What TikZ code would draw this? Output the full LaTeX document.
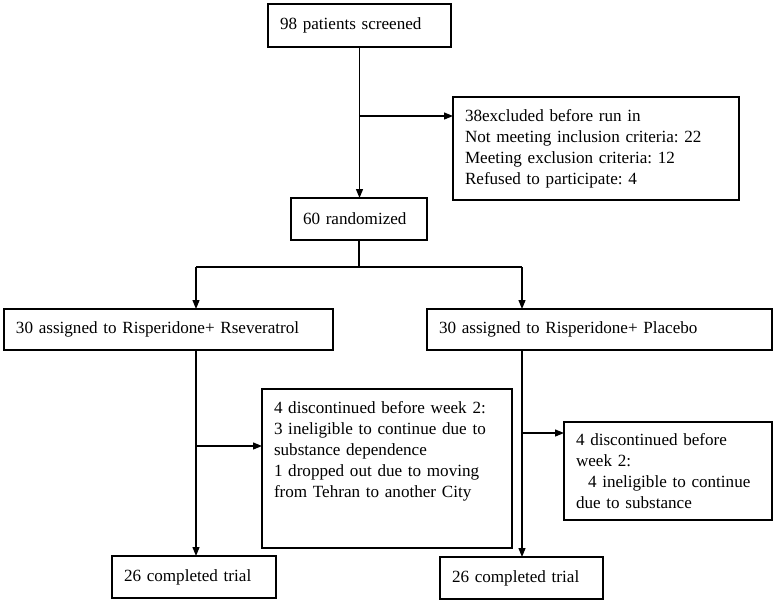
\documentclass[tikz,border=0pt]{standalone}
\usepackage{fontspec}
\setmainfont{Liberation Serif}
\usetikzlibrary{arrows.meta}
\frenchspacing
\begin{document}
\begin{tikzpicture}[x=1pt,y=-1pt,
    box/.style={draw,line width=1.2pt,anchor=north west,outer sep=0pt,inner xsep=12pt,
      align=left,font=\fontsize{17.1}{21}\selectfont\frenchspacing},
    flow/.style={line width=1.2pt,-{Triangle[length=9pt,width=7pt]}}]
  \useasboundingbox (0,0) rectangle (776,603);
  \node[box,text width=159pt,minimum height=43pt] (screened) at (268,4) {98 patients screened};
  \node[box,text width=262pt,minimum height=103pt] (excluded) at (453,97)
    {38excluded before run in\\Not meeting inclusion criteria: 22\\Meeting exclusion criteria: 12\\Refused to participate: 4};
  \node[box,text width=112pt,minimum height=42pt] (randomized) at (291,198) {60 randomized};
  \node[box,text width=305pt,minimum height=41pt] (resv) at (4,309) {30 assigned to Risperidone+ Rseveratrol};
  \node[box,text width=321pt,minimum height=41pt] (placebo) at (427,309) {30 assigned to Risperidone+ Placebo};
  \node[box,text width=226pt,inner ysep=12pt,text depth=123pt] (dropresv) at (262,389)
    {4 discontinued before week 2:\\3 ineligible to continue due to\\substance dependence\\1 dropped out due to moving\\from Tehran to another City};
  \node[box,text width=184pt,minimum height=98pt] (dropplac) at (564,422)
    {4 discontinued before\\week 2:\\\hspace*{12pt}4 ineligible to continue\\due to substance};
  \node[box,text width=140pt,minimum height=42pt] (doneresv) at (112,556) {26 completed trial};
  \node[box,text width=139pt,minimum height=42pt] (doneplac) at (440,557) {26 completed trial};
  % branch points
  \coordinate (exc) at (359,116);
  \coordinate (split) at (359,267);
  \coordinate (lsplit) at (196,267);
  \coordinate (rsplit) at (522,267);
  \coordinate (lexit) at (196,446);
  \coordinate (rexit) at (522,433);
  \draw[flow] (screened.south) -- (screened.south |- randomized.north);
  \draw[flow] (exc) -- (exc -| excluded.west);
  \draw[line width=1.2pt] (randomized.south) -- (split);
  \draw[line width=1.2pt] (lsplit) -- (rsplit);
  \draw[flow] (lsplit) -- (lsplit |- resv.north);
  \draw[flow] (rsplit) -- (rsplit |- placebo.north);
  \draw[flow] (lsplit |- resv.south) -- (lsplit |- doneresv.north);
  \draw[flow] (lexit) -- (lexit -| dropresv.west);
  \draw[flow] (rsplit |- placebo.south) -- (rsplit |- doneplac.north);
  \draw[flow] (rexit) -- (rexit -| dropplac.west);
\end{tikzpicture}
\end{document}
